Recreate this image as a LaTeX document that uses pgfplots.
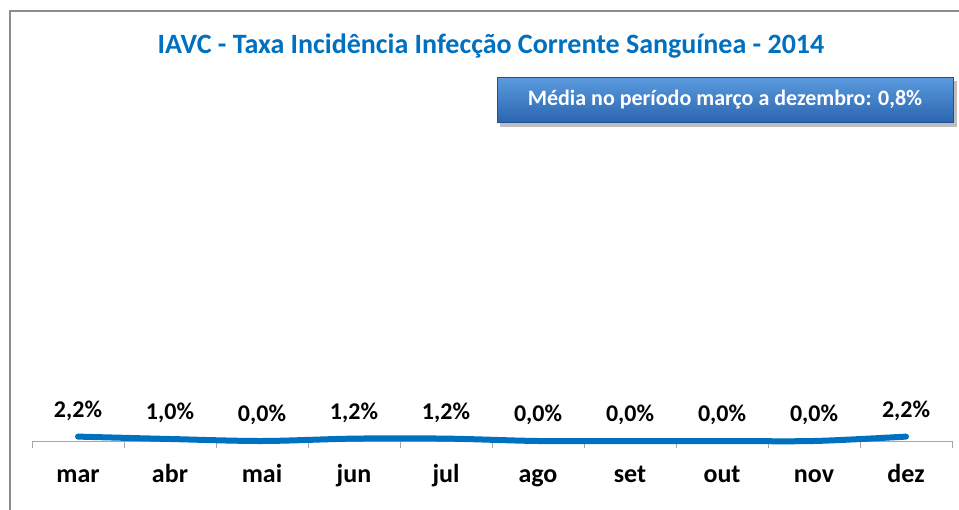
\documentclass[border=0pt]{standalone}
\usepackage{fontspec}
\setmainfont{Carlito}
\usepackage{pgfplots}
\pgfplotsset{compat=1.18}
\definecolor{xlblue}{HTML}{0070C0}
\definecolor{boxtop}{HTML}{5B9BDE}
\definecolor{boxbot}{HTML}{2B66B0}
\definecolor{framegray}{HTML}{8C8C8C}
\begin{document}
\begin{tikzpicture}
\useasboundingbox (0,0) rectangle (959bp,-510bp);
\fill[white] (0,0) rectangle (959bp,-510bp);
\draw[framegray, line width=2bp] (10bp,-512bp) -- (10bp,-11bp) -- (961bp,-11bp);
\node[font=\fontsize{28bp}{32bp}\selectfont\bfseries, text=xlblue] at (491bp,-46bp) {IAVC - Taxa Incidência Infecção Corrente Sanguínea - 2014};
\fill[black!25] (500bp,-81bp) rectangle (957bp,-127bp);
\shade[top color=boxtop, bottom color=boxbot, draw=boxbot!80!black, line width=0.6bp] (497bp,-77bp) rectangle (953bp,-122bp);
\node[font=\fontsize{22bp}{26bp}\selectfont\bfseries, text=white] at (725bp,-100bp) {Média no período março a dezembro: 0,8\%};
\begin{axis}[
  at={(32bp,-441bp)}, anchor=south west,
  width=920bp, height=200bp, scale only axis,
  xmin=-0.5, xmax=9.5, ymin=0, ymax=100,
  axis x line*=bottom, axis y line=none,
  axis line style={draw=black!35, line width=0.8bp, -},
  xtick={0,...,9},
  xticklabels={mar,abr,mai,jun,jul,ago,set,out,nov,dez},
  major tick length=0pt,
  xticklabel style={font=\fontsize{26bp}{30bp}\selectfont\bfseries, anchor=base, yshift=-41bp},
  extra x ticks={-0.5,0.5,...,9.5},
  extra x tick labels={},
  extra x tick style={major tick length=7bp, tick align=outside, tick style={draw=black!35, line width=0.8bp}},
  clip=false,
  /pgf/number format/assume math mode=true,
  nodes near coords={\pgfmathprintnumber[fixed,fixed zerofill,precision=1,use comma]{\pgfplotspointmeta}\%},
  every node near coord/.append style={font=\fontsize{24bp}{28bp}\selectfont\bfseries, text=black, anchor=south, yshift=10bp},
]
\addplot[xlblue, line width=6bp, line cap=round, smooth, tension=0.5] coordinates {
(0,2.2) (1,1.0) (2,0.0) (3,1.2) (4,1.2) (5,0.0) (6,0.0) (7,0.0) (8,0.0) (9,2.2)
};
\end{axis}
\end{tikzpicture}
\end{document}
